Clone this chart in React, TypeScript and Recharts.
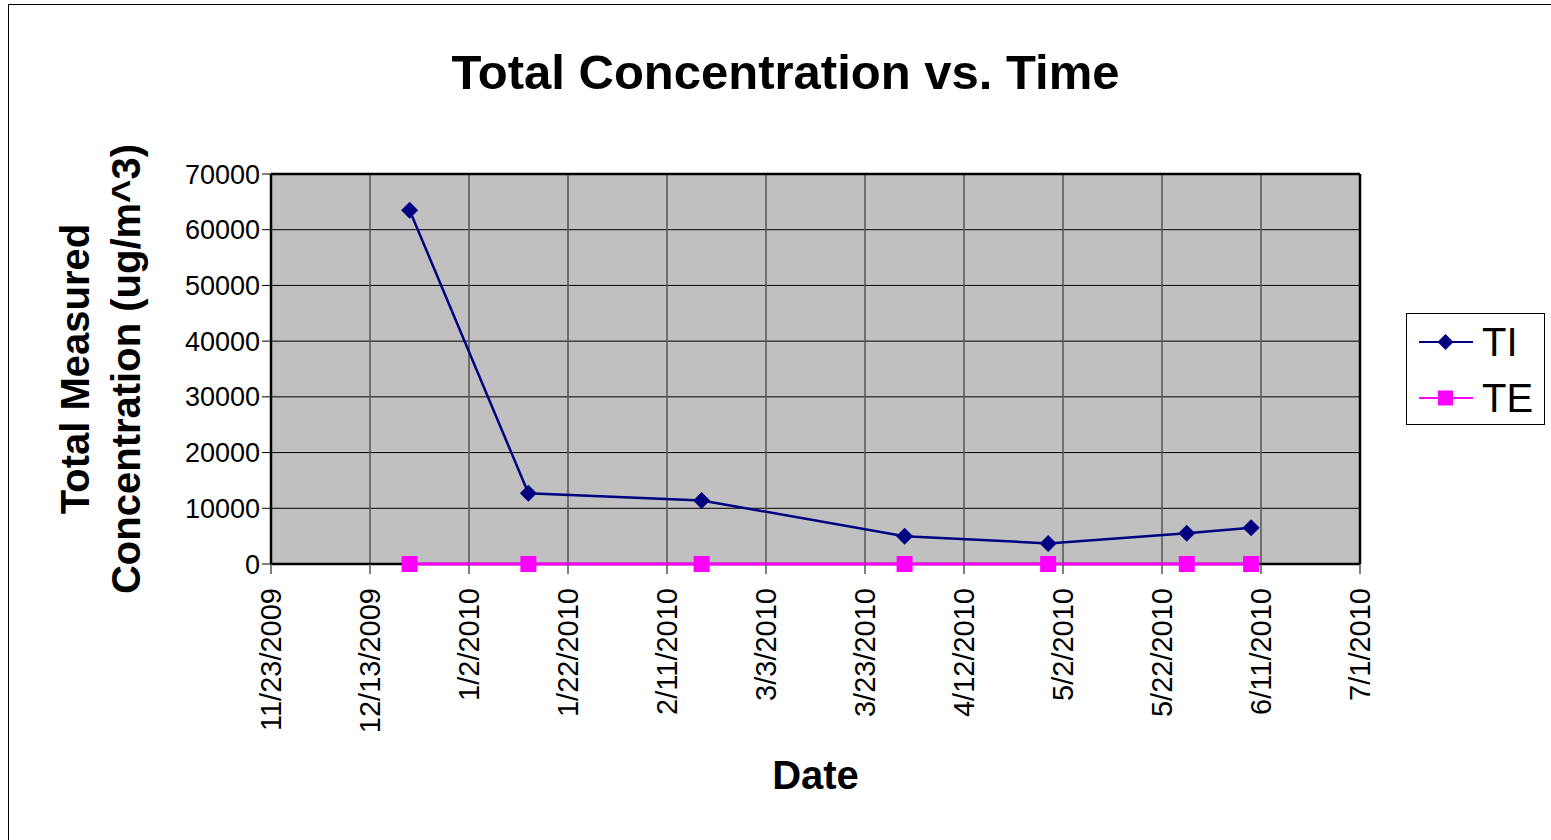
import React from 'react';
import { LineChart, Line, XAxis, YAxis, CartesianGrid, Legend, ReferenceLine } from 'recharts';

const sampleDates = ['12/21/2009', '1/14/2010', '2/18/2010', '3/31/2010', '4/29/2010', '5/27/2010', '6/9/2010'];
const tiValues = [63500, 12700, 11400, 5000, 3700, 5500, 6500];
const teValues = [0, 0, 0, 0, 0, 0, 0];

const xTickLabels = [
  '11/23/2009', '12/13/2009', '1/2/2010', '1/22/2010', '2/11/2010', '3/3/2010',
  '3/23/2010', '4/12/2010', '5/2/2010', '5/22/2010', '6/11/2010', '7/1/2010',
];
const yTicks = [0, 10000, 20000, 30000, 40000, 50000, 60000, 70000];

const FONT = '"Liberation Sans", Arial, sans-serif';
const TI_COLOR = '#000080';
const TE_COLOR = '#ff00ff';

const parseDate = (s: string) => {
  const [m, d, y] = s.split('/').map(Number);
  return Date.UTC(y, m - 1, d);
};
const fmtDate = (v: number) => {
  const d = new Date(v);
  return `${d.getUTCMonth() + 1}/${d.getUTCDate()}/${d.getUTCFullYear()}`;
};

const xTicks = xTickLabels.map(parseDate);
const data = sampleDates.map((s, i) => ({ date: parseDate(s), TI: tiValues[i], TE: teValues[i] }));

const XTick = ({ x, y, payload }: any) => (
  <text
    x={x}
    y={y}
    transform={`rotate(-90, ${x}, ${y})`}
    textAnchor="end"
    dy="0.36em"
    fontSize={29}
    fontFamily={FONT}
    fill="#000"
  >
    {fmtDate(payload.value)}
  </text>
);

const Diamond = ({ cx, cy, index }: any) => (
  <path key={`ti-${index}`} d={`M${cx},${cy - 8.5} L${cx + 8.5},${cy} L${cx},${cy + 8.5} L${cx - 8.5},${cy} Z`} fill={TI_COLOR} />
);

const Square = ({ cx, cy, index }: any) => (
  <rect key={`te-${index}`} x={cx - 8} y={cy - 8} width={16} height={16} fill={TE_COLOR} />
);

const YLabel = ({ viewBox }: any) => {
  const cy = viewBox.y + viewBox.height / 2;
  const line = (x: number, s: string) => (
    <text
      x={x}
      y={cy}
      transform={`rotate(-90, ${x}, ${cy})`}
      textAnchor="middle"
      dy="0.35em"
      fontSize={40}
      fontWeight="bold"
      fontFamily={FONT}
      fill="#000"
    >
      {s}
    </text>
  );
  return (
    <g>
      {line(67, 'Total Measured')}
      {line(118, 'Concentration (ug/m^3)')}
    </g>
  );
};

const XLabel = ({ viewBox }: any) => (
  <text
    x={viewBox.x + viewBox.width / 2}
    y={viewBox.y + 225}
    textAnchor="middle"
    fontSize={40}
    fontWeight="bold"
    fontFamily={FONT}
    fill="#000"
  >
    Date
  </text>
);

const LegendBox = () => {
  const row = (name: string, color: string, square: boolean) => (
    <div style={{ display: 'flex', alignItems: 'center', height: 56 }}>
      <svg width={66} height={20} style={{ display: 'block' }}>
        <line x1={12} y1={10} x2={66} y2={10} stroke={color} strokeWidth={2} />
        {square ? (
          <rect x={31} y={2.5} width={15} height={15} fill={color} />
        ) : (
          <path d="M38.5,2 L46.5,10 L38.5,18 L30.5,10 Z" fill={color} />
        )}
      </svg>
      <span style={{ marginLeft: 9, fontSize: 40, lineHeight: '40px', fontFamily: FONT, color: '#000' }}>{name}</span>
    </div>
  );
  return (
    <div style={{ width: 137, height: 110, border: '1px solid #000', background: '#fff', boxSizing: 'content-box' }}>
      {row('TI', TI_COLOR, false)}
      {row('TE', TE_COLOR, true)}
    </div>
  );
};

export default function App() {
  const W = 1543;
  const H = 836;
  return (
    <div style={{ position: 'absolute', left: 8, top: 4, width: W, height: H, overflow: 'hidden', background: '#fff' }}>
      <div
        style={{
          position: 'absolute',
          left: 0,
          top: 0,
          width: 2000,
          height: 2000,
          borderLeft: '1px solid #000',
          borderTop: '1px solid #000',
        }}
      />
      <div
        style={{
          position: 'absolute',
          left: 0,
          top: 44,
          width: 1555,
          textAlign: 'center',
          fontSize: 49,
          lineHeight: '49px',
          fontWeight: 'bold',
          fontFamily: FONT,
          color: '#000',
        }}
      >
        Total Concentration vs. Time
      </div>
      <div style={{ position: 'absolute', left: 0, top: 0 }}>
        <LineChart width={W} height={H} data={data} margin={{ top: 170, right: 191, bottom: 0, left: 0 }}>
          <CartesianGrid fill="#c0c0c0" vertical={false} stroke="#000" strokeWidth={1} />
          <CartesianGrid horizontal={false} stroke="#555" strokeWidth={1.5} />
          <CartesianGrid vertical={false} horizontalValues={[0]} stroke="#000" strokeWidth={2.5} />
          <XAxis
            dataKey="date"
            type="number"
            scale="linear"
            domain={[xTicks[0], xTicks[xTicks.length - 1]]}
            ticks={xTicks}
            interval={0}
            height={276}
            tick={<XTick />}
            tickSize={10}
            tickMargin={14}
            tickLine={{ stroke: '#555', strokeWidth: 1.5 }}
            axisLine={false}
            label={{ content: XLabel }}
          />
          <YAxis
            type="number"
            domain={[0, 70000]}
            ticks={yTicks}
            interval={0}
            width={263}
            tickSize={9}
            tickMargin={2}
            tick={{ fontSize: 27, fontFamily: FONT, fill: '#000' }}
            tickLine={{ stroke: '#000', strokeWidth: 1 }}
            axisLine={{ stroke: '#000', strokeWidth: 2.5 }}
            label={{ content: YLabel }}
          />
          <ReferenceLine y={70000} stroke="#000" strokeWidth={2.5} />
          <ReferenceLine x={xTicks[xTicks.length - 1]} stroke="#000" strokeWidth={2.5} />
          <Line
            dataKey="TI"
            name="TI"
            stroke={TI_COLOR}
            strokeWidth={2.5}
            dot={Diamond}
            activeDot={false}
            isAnimationActive={false}
          />
          <Line
            dataKey="TE"
            name="TE"
            stroke={TE_COLOR}
            strokeWidth={3}
            dot={Square}
            activeDot={false}
            isAnimationActive={false}
          />
          <Legend
            layout="horizontal"
            verticalAlign="middle"
            align="center"
            content={LegendBox}
            wrapperStyle={{ left: 1398, top: 309, width: 139, height: 112 }}
          />
        </LineChart>
      </div>
    </div>
  );
}
